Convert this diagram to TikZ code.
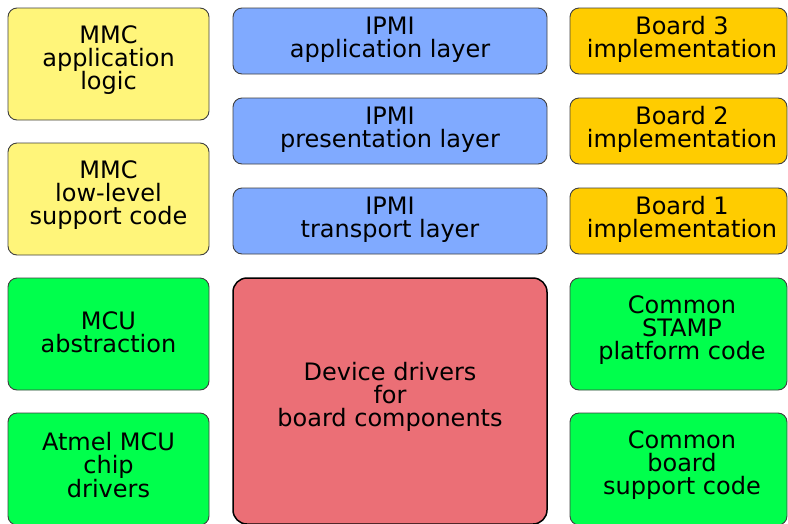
\documentclass[tikz,border=0pt]{standalone}
\usepackage{fontspec}
\setmainfont{DejaVu Sans}
\definecolor{cyel}{RGB}{255,245,122}
\definecolor{cblue}{RGB}{128,170,255}
\definecolor{corange}{RGB}{255,204,0}
\definecolor{cgreen}{RGB}{0,255,76}
\definecolor{cred}{RGB}{235,111,118}
\tikzset{
  blk/.style={rounded corners=9pt, draw=black!75, line width=0.9pt, inner sep=0pt},
  lbl/.style={align=center, inner sep=0pt, font=\fontsize{24}{23.3}\selectfont, yshift=4pt},
  lbltwo/.style={lbl, yshift=-2.5pt},
  lblr/.style={xshift=3.5pt},
  leftbox/.style={blk, minimum width=201pt, minimum height=112pt},
  midbox/.style={blk, fill=cblue, minimum width=314pt, minimum height=66pt},
  rightbox/.style={blk, minimum width=217pt},
}
\begin{document}
\begin{tikzpicture}[x=1pt,y=-1pt]
\useasboundingbox (0,0) rectangle (788,523);
\clip (0,0) rectangle (788,523);
\fill[white] (0,0) rectangle (788,523);
% left column
\node[leftbox, fill=cyel, label={[lbl, name=tmmcapp]center:{MMC\\application\\logic}}] (mmcapp) at (108.5,64) {};
\node[leftbox, fill=cyel, label={[lbl, name=tmmcll]center:{MMC\\low-level\\support code}}] (mmcll) at (108.5,199) {};
\node[leftbox, fill=cgreen, label={[lbltwo, name=tmcuabs]center:{MCU\\abstraction}}] (mcuabs) at (108.5,334) {};
\node[leftbox, fill=cgreen, label={[lbl, name=tatmel]center:{Atmel MCU\\chip\\drivers}}] (atmel) at (108.5,469) {};
% middle column
\node[midbox, label={[lbltwo, name=tipmiapp]center:{IPMI\\application layer}}] (ipmiapp) at (390,41) {};
\node[midbox, label={[lbltwo, name=tipmipres]center:{IPMI\\presentation layer}}] (ipmipres) at (390,131) {};
\node[midbox, label={[lbltwo, name=tipmitrans]center:{IPMI\\transport layer}}] (ipmitrans) at (390,221) {};
\node[blk, fill=cred, draw=black, line width=1.5pt, rounded corners=14pt,
  minimum width=314pt, minimum height=246pt,
  label={[lbl, name=tdevdrv]center:{Device drivers\\for\\board components}}] (devdrv) at (390,401) {};
% right column
\node[rightbox, fill=corange, minimum height=66pt, label={[lbltwo, lblr, name=tboard3]center:{Board 3\\implementation}}] (board3) at (678.5,41) {};
\node[rightbox, fill=corange, minimum height=66pt, label={[lbltwo, lblr, name=tboard2]center:{Board 2\\implementation}}] (board2) at (678.5,131) {};
\node[rightbox, fill=corange, minimum height=66pt, label={[lbltwo, lblr, name=tboard1]center:{Board 1\\implementation}}] (board1) at (678.5,221) {};
\node[rightbox, fill=cgreen, minimum height=112pt, label={[lbl, lblr, name=tstamp]center:{Common\\STAMP\\platform code}}] (stamp) at (678.5,334) {};
\node[rightbox, fill=cgreen, minimum height=112pt, label={[lbl, lblr, name=tcboard]center:{Common\\board\\support code}}] (cboard) at (678.5,469) {};
\end{tikzpicture}
\end{document}
